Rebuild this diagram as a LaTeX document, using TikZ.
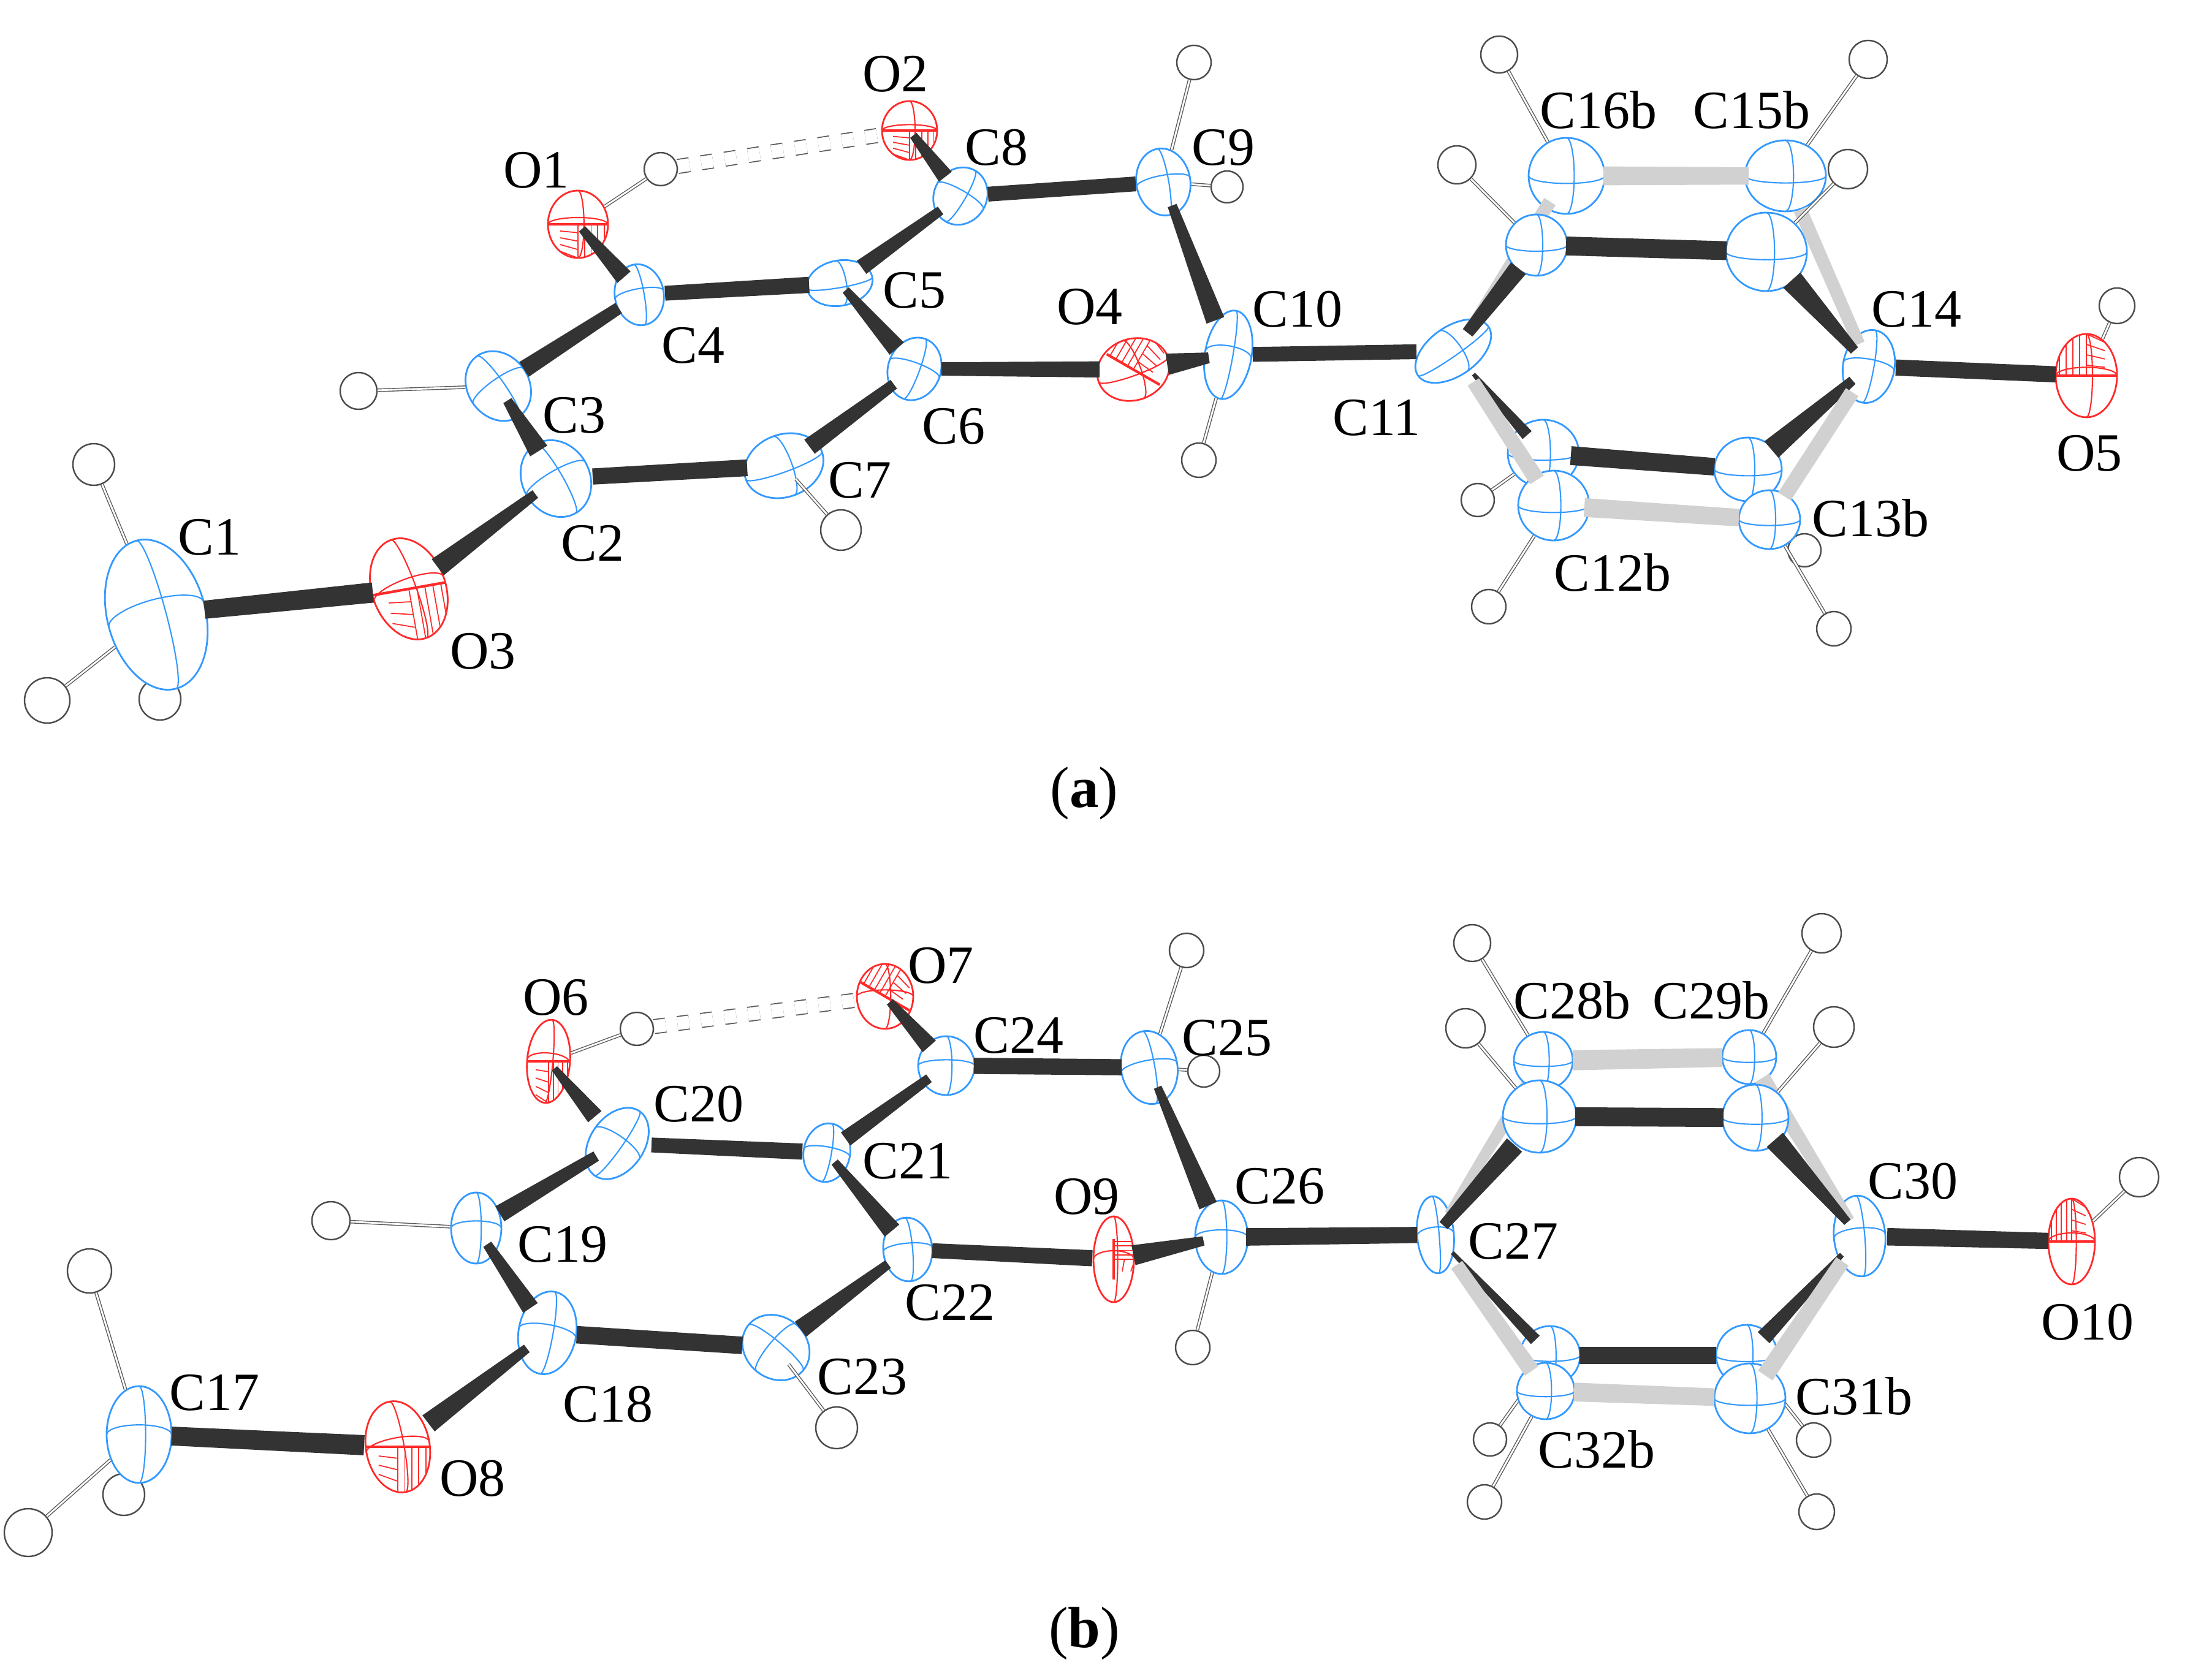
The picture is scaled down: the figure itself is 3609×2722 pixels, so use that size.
\documentclass[tikz,border=0pt]{standalone}
\usepackage{fontspec}
\setmainfont{Liberation Serif}
\usetikzlibrary{calc,shapes.geometric}
\definecolor{cblue}{HTML}{3399FF}
\definecolor{ored}{HTML}{FF2A2A}
\tikzset{
    atomnode/.style={ellipse,fill=white,inner sep=0pt,line width=0.8pt},
    hatom/.style={atomnode,draw=black!70,line width=0.7pt},
    hlink/.style={draw=black!65,double=white,line width=0.4pt,double distance=0.8pt},
    hbridge/.style={draw=black!65,double=white,line width=0.5pt,double distance=6pt,dash pattern=on 5.5pt off 5.5pt},
    bonddark/.style={fill=black!80},
    bondgrey/.style={fill=black!18},
    lbl/.style={inner sep=0pt,font=\fontsize{25}{30}\selectfont},
    figlabel/.style={inner sep=0pt,font=\fontsize{27}{32}\selectfont}
}
\newcommand{\atom}[6][cblue]{%
    \node[atomnode,draw=#1,minimum width={2*#4*0.01cm},minimum height={2*#5*0.01cm},rotate=#6] (#2) at (#3) {};
    \begin{scope}[shift={(#2.center)},rotate=#6]
        \draw[#1,line width=0.6pt] ({-#4*0.01cm},0) arc[start angle=180,end angle=360,x radius={#4*0.01cm},y radius={#5*0.002cm}];
        \draw[#1,line width=0.6pt] (0,{-#5*0.01cm}) arc[start angle=-90,end angle=90,x radius={#4*0.002cm},y radius={#5*0.01cm}];
    \end{scope}
}
\newcommand{\oxygen}[6]{%
    \atom[ored]{#1}{#2}{#3}{#4}{#5}
    \begin{scope}[shift={(#1.center)}]
        \clip[rotate=#5] (0,0) ellipse[x radius={#3*0.01cm},y radius={#4*0.01cm}];
        \begin{scope}[rotate=#6]
            \draw[ored,line width=1.2pt] ({-#4*0.01cm},0) -- ({#4*0.01cm},0);
            \foreach \k in {0,1,2,3,4} {
                \draw[ored,line width=0.5pt] ({\k*#4*0.0022cm},0) -- ({\k*#4*0.0022cm},{-#3*0.01cm});
            }
            \foreach \k in {1,2,3,4} {
                \draw[ored,line width=0.5pt] ({-#4*0.006cm},{-\k*#3*0.002cm}) -- (0,{-\k*#3*0.0025cm});
            }
        \end{scope}
    \end{scope}
}
\newcommand{\bond}[7][bonddark]{%
    \coordinate (bs) at ($(#2)!#4*0.01cm!(#3)$);
    \coordinate (be) at ($(#3)!#5*0.01cm!(#2)$);
    \fill[#1] ($(bs)!#6*0.0055cm!90:(be)$) -- ($(bs)!#6*0.0055cm!-90:(be)$) -- ($(be)!#7*0.0055cm!90:(bs)$) -- ($(be)!#7*0.0055cm!-90:(bs)$) -- cycle;
}
\newcommand{\hatoms}[1]{%
    \foreach \n/\x/\y/\r in {#1} {
        \node[hatom,minimum width={2*\r*0.01cm},minimum height={2*\r*0.01cm}] (\n) at (\x,\y) {};
    }
}
\begin{document}
\begin{tikzpicture}[x=0.01cm,y=-0.01cm]
    \useasboundingbox (0,0) rectangle (3609,2722);

    \hatoms{H1a/153/758/34,H1b/77/1143/37,H1c/261/1141/34,HO1/1078/276/27,H3/585/638/30,H7/1372/865/33,
        H9a/1948/102/28,H9b/2002/305/26,H10/1956/751/28,H16b/2446/89/30,H15b/3048/97/31,H16/2377/269/31,
        H12/2411/816/27,H12b/2429/990/28,H13/2944/898/27,H13b/2992/1026/28,HO5/3454/499/29}

    \atom{C1}{255,1003}{125}{80}{105}
    \oxygen{O3}{667,961}{85}{60}{110}{10}
    \atom{C2}{907,781}{65}{55}{120}
    \atom{C3}{813,630}{60}{50}{125}
    \atom{C4}{1043,481}{50}{40}{100}
    \atom{C5}{1370,462}{54}{37}{10}
    \atom{C6}{1492,602}{52}{43}{70}
    \atom{C7}{1279,760}{66}{51}{20}
    \atom{C8}{1567,320}{48}{43}{60}
    \atom{C9}{1898,297}{55}{44}{100}
    \atom{C10}{2004,579}{73}{38}{80}
    \atom{C11}{2371,573}{70}{40}{35}
    \atom{C14}{3049,598}{60}{42}{80}
    \oxygen{O1}{943,366}{55}{49}{90}{0}
    \oxygen{O2}{1484,213}{48}{45}{90}{0}
    \oxygen{O4}{1849,603}{60}{50}{20}{150}
    \oxygen{O5}{3404,613}{68}{50}{90}{180}

    \draw[hlink] (H1a) -- (C1);
    \draw[hlink] (H1b) -- (C1);
    \draw[hlink] (HO1) -- (O1);
    \draw[hlink] (H3) -- (C3);
    \draw[hlink,shorten >=-7pt] (H7) -- (C7);
    \draw[hlink] (H9a) -- (C9);
    \draw[hlink] (H9b) -- (C9);
    \draw[hlink] (H10) -- (C10);
    \draw[hlink] (HO5) -- (O5);
    \draw[hbridge] (HO1) -- (O2);

    \bond{C1}{O3}{79}{59}{27}{30}
    \bond{O3}{C2}{59}{42}{30}{14}
    \bond{C2}{C3}{53}{28}{30}{14}
    \bond{C3}{C4}{50}{40}{26}{18}
    \bond{C4}{C5}{42}{50}{22}{24}
    \bond{C6}{C5}{44}{15}{28}{12}
    \bond{C5}{C8}{44}{40}{24}{14}
    \bond{C7}{C6}{52}{42}{26}{16}
    \bond{C2}{C7}{60}{60}{24}{25}
    \bond{C4}{O1}{38}{10}{26}{12}
    \bond{C8}{O2}{40}{10}{24}{12}
    \bond{C6}{O4}{44}{55}{20}{24}
    \bond{O4}{C10}{56}{32}{32}{16}
    \bond{C8}{C9}{45}{45}{22}{22}
    \bond{C10}{C9}{60}{41}{28}{14}
    \bond{C10}{C11}{40}{60}{22}{22}
    \bond{C14}{O5}{44}{50}{24}{24}

    \atom{C12}{2518,740}{58}{55}{0}
    \atom{C13}{2852,766}{55}{52}{0}
    \draw[hlink] (H12) -- (C12);
    \draw[hlink] (H13) -- (C13);
    \bond{C12}{C13}{45}{55}{28}{26}
    \bond{C12}{C11}{40}{50}{18}{6}
    \bond{C13}{C14}{50}{35}{32}{14}
    \atom{C12b}{2535,825}{58}{57}{0}
    \atom{C13b}{2887,848}{50}{48}{0}
    \draw[hlink] (H12b) -- (C12b);
    \draw[hlink] (H13b) -- (C13b);
    \bond[bondgrey]{C12b}{C13b}{50}{50}{28}{26}
    \bond[bondgrey]{C12b}{C11}{50}{60}{24}{20}
    \bond[bondgrey]{C14}{C13b}{50}{45}{22}{22}

    \atom{C16b}{2556,287}{62}{62}{0}
    \atom{C15b}{2913,287}{66}{58}{0}
    \draw[hlink] (H16b) -- (C16b);
    \draw[hlink] (H15b) -- (C15b);
    \bond[bondgrey]{C16b}{C15b}{60}{60}{28}{26}
    \bond[bondgrey]{C16b}{C11}{50}{50}{20}{10}
    \bond[bondgrey]{C15b}{C14}{60}{40}{20}{18}
    \hatoms{H15/3015/276/32}
    \atom{C16}{2507,400}{50}{50}{0}
    \atom{C15}{2882,411}{66}{64}{0}
    \draw[hlink] (H16) -- (C16);
    \draw[hlink] (H15) -- (C15);
    \bond{C16}{C15}{48}{65}{28}{28}
    \bond{C16}{C11}{48}{38}{28}{18}
    \bond{C15}{C14}{62}{35}{34}{14}

    \foreach \n/\x/\y in {O2/1461/121,O1/875/278,C8/1626/241,C9/1996/241,C4/1131/564,C5/1492/474,
        C3/937/678,C6/1556/696,C7/1403/784,C2/967/887,C1/342/877,O3/788/1063,O4/1778/501,C10/2117/505,
        C11/2246/682,C16b/2608/179,C15b/2858/179,C14/3127/505,O5/3409/740,C13b/3052/845,C12b/2631/934} {
        \node[lbl] (l\n) at (\x,\y) {\n};
    }
    \node[figlabel] (capa) at (1769,1295) {(\textbf{a})};

    \hatoms{H17a/146/2074/36,H17b/46/2501/39,H17c/202/2439/34,HO6/1039/1679/27,H19/540/1992/31,H23/1365/2330/34,
        H25a/1936/1551/28,H25b/1964/1748/26,H26/1946/2199/28,H28b/2402/1539/30,H28/2391/1678/32,H29b/2972/1523/32,
        H29/2992/1676/33,H32/2431/2349/27,H32b/2422/2451/28,H31/2959/2350/28,H31b/2964/2467/29,HO10/3490/1921/32}

    \atom{C17}{227,2341}{79}{53}{90}
    \oxygen{O8}{649,2361}{75}{52}{100}{0}
    \atom{C18}{893,2175}{68}{47}{80}
    \atom{C19}{777,2004}{58}{41}{90}
    \atom{C20}{1007,1866}{64}{44}{55}
    \atom{C21}{1349,1881}{48}{38}{80}
    \atom{C22}{1481,2039}{52}{40}{95}
    \atom{C23}{1266,2199}{58}{50}{140}
    \atom{C24}{1544,1739}{48}{46}{90}
    \atom{C25}{1875,1742}{60}{46}{100}
    \atom{C26}{1993,2019}{60}{43}{90}
    \atom{C27}{2342,2015}{63}{30}{95}
    \atom{C30}{3034,2017}{66}{42}{95}
    \oxygen{O6}{895,1732}{68}{35}{85}{0}
    \oxygen{O7}{1444,1626}{53}{46}{90}{150}
    \oxygen{O9}{1817,2055}{70}{33}{90}{90}
    \oxygen{O10}{3380,2026}{70}{38}{90}{180}

    \draw[hlink] (H17a) -- (C17);
    \draw[hlink] (H17b) -- (C17);
    \draw[hlink] (HO6) -- (O6);
    \draw[hlink] (H19) -- (C19);
    \draw[hlink,shorten >=-7pt] (H23) -- (C23);
    \draw[hlink] (H25a) -- (C25);
    \draw[hlink] (H25b) -- (C25);
    \draw[hlink] (H26) -- (C26);
    \draw[hlink] (HO10) -- (O10);
    \draw[hbridge] (HO6) -- (O7);

    \bond{C17}{O8}{53}{55}{28}{30}
    \bond{O8}{C18}{63}{42}{30}{14}
    \bond{C18}{C19}{49}{32}{26}{14}
    \bond{C19}{C20}{45}{40}{26}{16}
    \bond{C20}{C21}{56}{40}{22}{24}
    \bond{C20}{O6}{57}{15}{26}{10}
    \bond{C22}{C21}{40}{20}{28}{12}
    \bond{C21}{C24}{38}{35}{24}{14}
    \bond{C23}{C22}{50}{40}{28}{14}
    \bond{C18}{C23}{48}{55}{26}{26}
    \bond{C24}{O7}{42}{12}{26}{12}
    \bond{C22}{O9}{40}{35}{22}{24}
    \bond{O9}{C26}{33}{30}{30}{14}
    \bond{C24}{C25}{45}{45}{24}{24}
    \bond{C26}{C25}{56}{35}{28}{12}
    \bond{C26}{C27}{40}{30}{26}{24}
    \bond{C30}{O10}{45}{38}{26}{24}

    \atom{C32}{2529,2212}{49}{48}{0}
    \atom{C31}{2850,2212}{50}{50}{0}
    \draw[hlink] (H32) -- (C32);
    \draw[hlink] (H31) -- (C31);
    \bond{C32}{C31}{48}{50}{26}{26}
    \bond{C32}{C27}{35}{40}{18}{6}
    \bond{C31}{C30}{40}{42}{24}{8}
    \atom{C32b}{2522,2270}{47}{46}{0}
    \atom{C31b}{2855,2282}{58}{57}{0}
    \draw[hlink] (H32b) -- (C32b);
    \draw[hlink] (H31b) -- (C31b);
    \bond[bondgrey]{C32b}{C31b}{46}{58}{28}{26}
    \bond[bondgrey]{C32b}{C27}{40}{60}{24}{20}
    \bond[bondgrey]{C30}{C31b}{50}{45}{22}{26}

    \atom{C28b}{2518,1731}{48}{47}{0}
    \atom{C29b}{2854,1725}{44}{44}{0}
    \draw[hlink] (H28b) -- (C28b);
    \draw[hlink] (H29b) -- (C29b);
    \bond[bondgrey]{C28b}{C29b}{48}{44}{30}{28}
    \bond[bondgrey]{C28b}{C27}{48}{40}{22}{12}
    \bond[bondgrey]{C29b}{C30}{40}{30}{24}{14}
    \atom{C28}{2512,1822}{60}{59}{0}
    \atom{C29}{2864,1824}{54}{54}{0}
    \draw[hlink] (H28) -- (C28);
    \draw[hlink] (H29) -- (C29);
    \bond{C28}{C29}{58}{52}{28}{28}
    \bond{C28}{C27}{62}{20}{30}{16}
    \bond{C29}{C30}{48}{30}{32}{12}

    \foreach \n/\x/\y in {O6/907/1628,O7/1535/1576,C24/1662/1690,C25/2002/1694,C20/1140/1802,C21/1481/1895,
        O9/1773/1953,C26/2088/1936,C19/918/2031,C22/1550/2126,C23/1407/2247,C18/992/2292,C17/350/2273,O8/771/2413,
        C27/2469/2026,C28b/2565/1632,C29b/2792/1632,C30/3121/1928,O10/3406/2158,C31b/3025/2278,C32b/2605/2365} {
        \node[lbl] (l\n) at (\x,\y) {\n};
    }
    \node[figlabel] (capb) at (1769,2666) {(\textbf{b})};
\end{tikzpicture}
\end{document}
